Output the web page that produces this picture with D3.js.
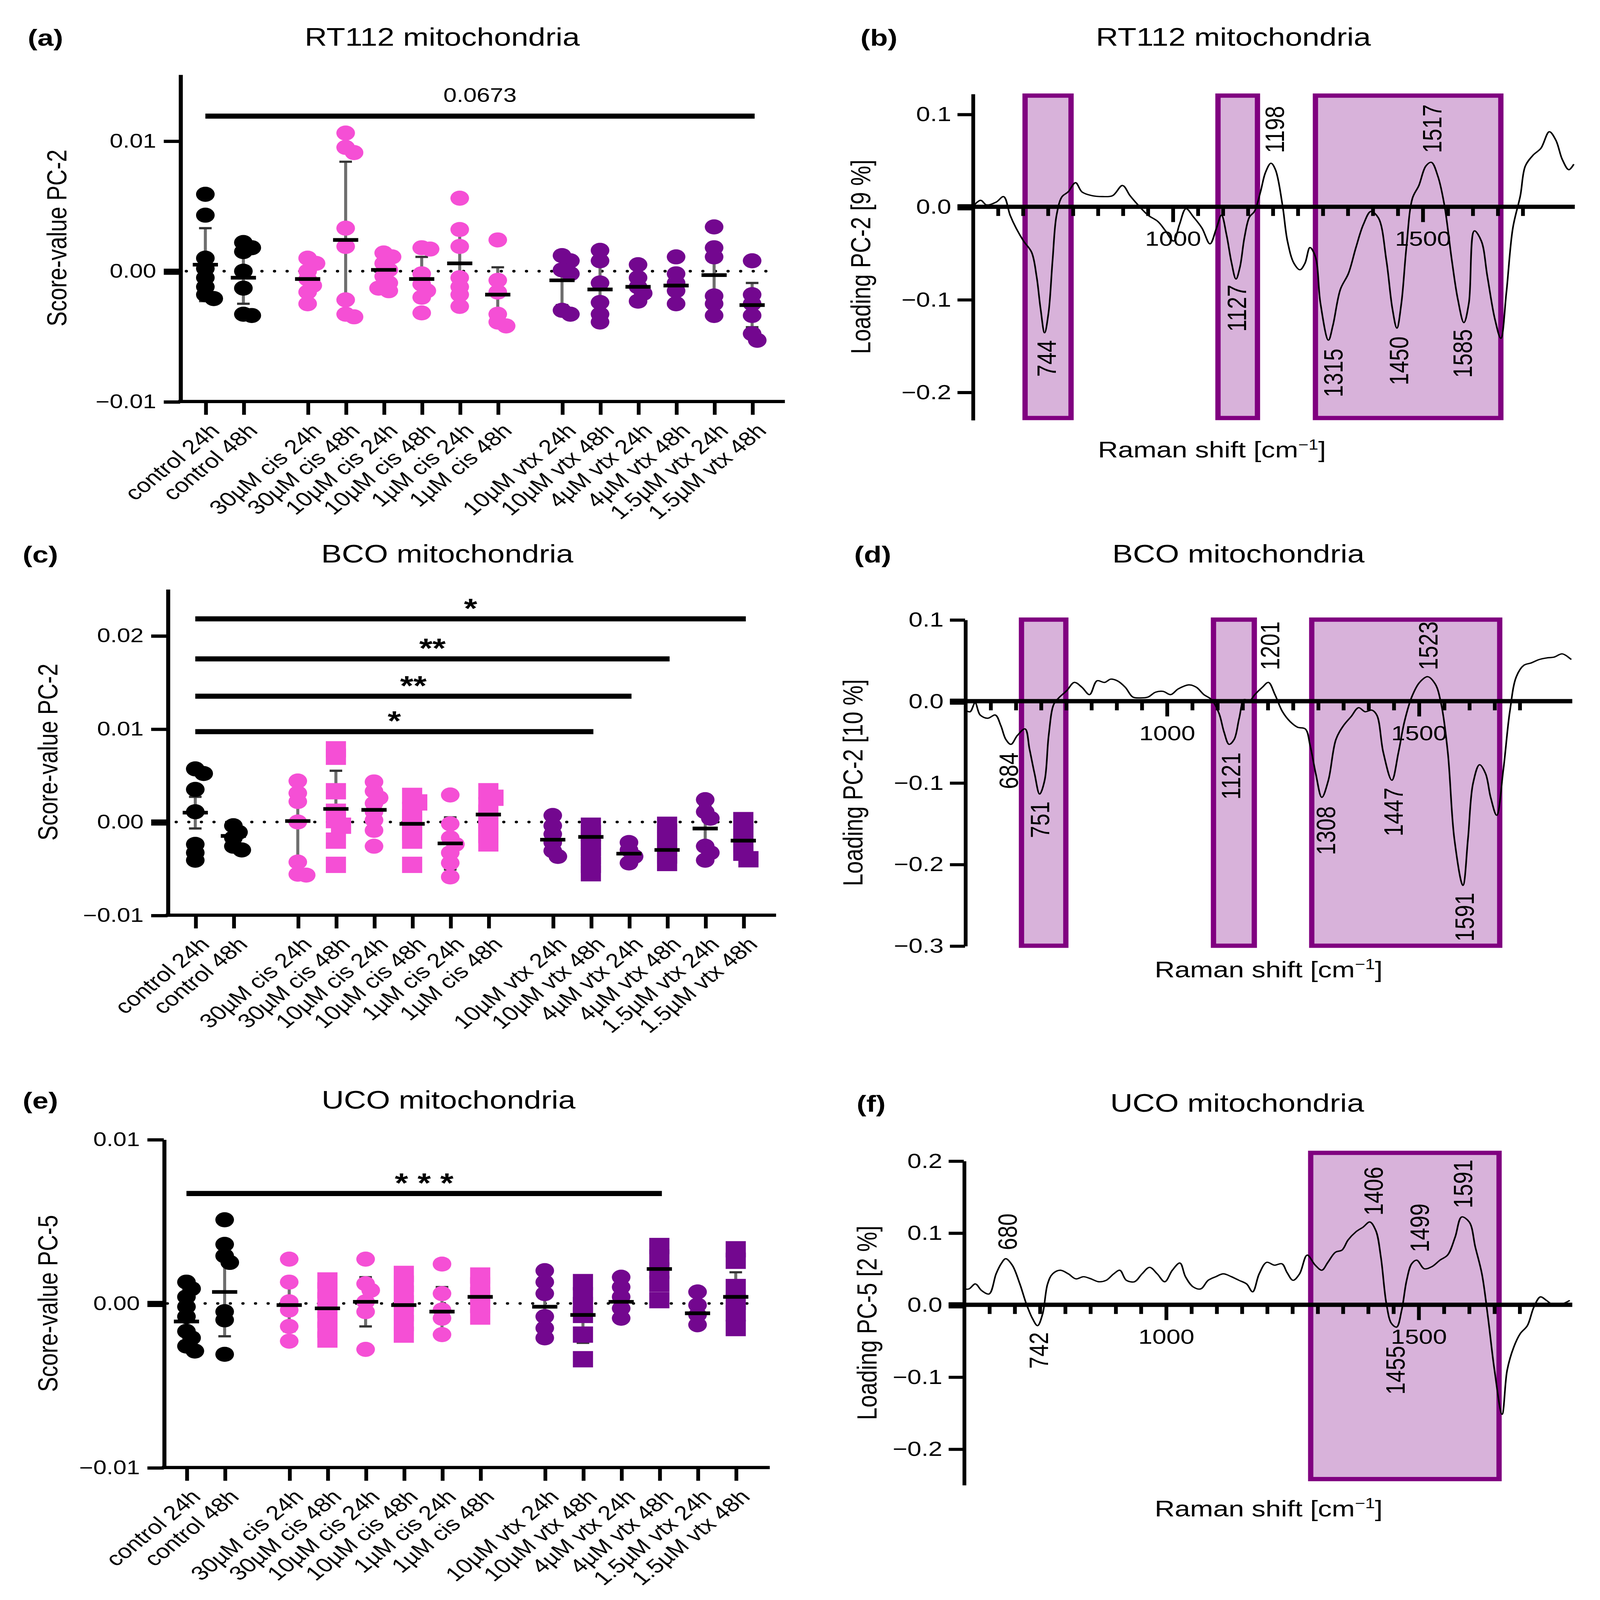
<!DOCTYPE html>
<html>
<head>
<meta charset="utf-8">
<script src="https://cdn.jsdelivr.net/npm/d3@7"></script>
<style>
  html, body { margin: 0; padding: 0; background: #fff; overflow: hidden; }
  svg { display: block; width: 100vw; height: 100vh; font-family: "Liberation Sans", Arial, sans-serif; }
</style>
</head>
<body>
<script>
// ---- shared categories ----
const categories = [
  "control 24h", "control 48h",
  "30µM cis 24h", "30µM cis 48h", "10µM cis 24h", "10µM cis 48h", "1µM cis 24h", "1µM cis 48h",
  "10µM vtx 24h", "10µM vtx 48h", "4µM vtx 24h", "4µM vtx 48h", "1.5µM vtx 24h", "1.5µM vtx 48h"
];
const catGroup = [0, 0, 1, 1, 1, 1, 1, 1, 2, 2, 2, 2, 2, 2];
const groupColor = ["#000000", "#f54fd5", "#73078f"];

// ---- (a) RT112 scores PC-2 ----
const rt112Scores = [
  [0.0059, 0.0043, 0.0010, 0.0002, -0.0005, -0.0012, -0.0018, -0.0021],
  [0.0022, 0.0018, 0.0015, 0.0000, -0.0013, -0.0033, -0.0034],
  [0.0010, 0.0006, 0.0000, -0.0006, -0.0011, -0.0016, -0.0025],
  [0.0106, 0.0095, 0.0091, 0.0033, 0.0019, -0.0022, -0.0033, -0.0035],
  [0.0014, 0.0011, 0.0006, 0.0001, -0.0004, -0.0009, -0.0013, -0.0015],
  [0.0018, 0.0017, -0.0002, -0.0010, -0.0015, -0.0020, -0.0032],
  [0.0056, 0.0032, 0.0019, -0.0005, -0.0012, -0.0018, -0.0027],
  [0.0024, -0.0007, -0.0016, -0.0033, -0.0039, -0.0042],
  [0.0012, 0.0008, 0.0001, -0.0002, -0.0030, -0.0033],
  [0.0016, 0.0008, -0.0009, -0.0024, -0.0033, -0.0039],
  [0.0005, -0.0005, -0.0012, -0.0017, -0.0023],
  [0.0011, -0.0002, -0.0009, -0.0015, -0.0025],
  [0.0034, 0.0018, 0.0011, -0.0019, -0.0025, -0.0034],
  [0.0008, -0.0018, -0.0025, -0.0034, -0.0048, -0.0053]
];
const rt112Mean = [0.0005, -0.0005, -0.0006, 0.0024, 0.0001, -0.0006, 0.0006, -0.0018, -0.0007, -0.0014, -0.0012, -0.0011, -0.0003, -0.0026];
const rt112Sd = [0.0028, 0.0020, 0.0013, 0.0060, 0.0010, 0.0017, 0.0027, 0.0021, 0.0019, 0.0019, 0.0010, 0.0012, 0.0021, 0.0017];
const rt112Shape = ["circle", "circle", "circle", "circle", "circle", "circle", "circle", "circle", "circle", "circle", "circle", "circle", "circle", "circle"];
const rt112Sig = [{ from: 0, to: 13, value: 0.0119, text: "0.0673" }];

// ---- (c) BCO scores PC-2 ----
const bcoScores = [
  [0.0057, 0.0052, 0.0035, 0.0011, -0.0024, -0.0033, -0.0041],
  [-0.0004, -0.0011, -0.0017, -0.0026, -0.0030],
  [0.0044, 0.0031, 0.0022, 0.0000, -0.0043, -0.0056, -0.0057],
  [0.0078, 0.0070, 0.0033, 0.0011, 0.0002, -0.0004, -0.0020, -0.0046],
  [0.0043, 0.0033, 0.0026, 0.0020, 0.0011, 0.0002, -0.0009, -0.0026],
  [0.0028, 0.0021, 0.0013, 0.0005, -0.0003, -0.0011, -0.0020, -0.0046],
  [0.0029, -0.0002, -0.0017, -0.0024, -0.0033, -0.0044, -0.0059],
  [0.0033, 0.0026, 0.0018, 0.0010, 0.0002, -0.0006, -0.0014, -0.0023],
  [0.0007, -0.0004, -0.0013, -0.0022, -0.0031, -0.0037],
  [-0.0004, -0.0012, -0.0020, -0.0028, -0.0037, -0.0046, -0.0055],
  [-0.0022, -0.0030, -0.0037, -0.0044],
  [-0.0003, -0.0011, -0.0020, -0.0028, -0.0036, -0.0044],
  [0.0024, 0.0011, 0.0004, -0.0026, -0.0033, -0.0041],
  [0.0002, -0.0007, -0.0015, -0.0024, -0.0033, -0.0040]
];
const bcoMean = [0.0010, -0.0015, 0.0001, 0.0014, 0.0013, -0.0002, -0.0023, 0.0008, -0.0019, -0.0016, -0.0034, -0.0030, -0.0007, -0.0020];
const bcoSd = [0.0017, 0.0008, 0.0045, 0.0041, 0.0020, 0.0025, 0.0028, 0.0017, 0.0014, 0.0015, 0.0008, 0.0013, 0.0024, 0.0011];
const bcoShape = ["circle", "circle", "circle", "square", "circle", "square", "circle", "square", "circle", "square", "circle", "square", "circle", "square"];
const bcoSig = [
  { from: 0, to: 13, value: 0.0218, text: "*" },
  { from: 0, to: 11, value: 0.0175, text: "**" },
  { from: 0, to: 10, value: 0.0135, text: "**" },
  { from: 0, to: 9, value: 0.0097, text: "*" }
];

// ---- (e) UCO scores PC-5 ----
const ucoScores = [
  [0.0013, 0.0009, 0.0004, -0.0002, -0.0008, -0.0017, -0.0021, -0.0026, -0.0029],
  [0.0051, 0.0036, 0.0029, 0.0025, -0.0005, -0.0010, -0.0031],
  [0.0027, 0.0013, 0.0001, -0.0004, -0.0014, -0.0023],
  [0.0014, 0.0008, 0.0002, -0.0004, -0.0010, -0.0016, -0.0022],
  [0.0027, 0.0012, 0.0008, 0.0001, -0.0005, -0.0028],
  [0.0018, 0.0012, 0.0006, 0.0000, -0.0006, -0.0012, -0.0019],
  [0.0024, 0.0006, -0.0004, -0.0009, -0.0019],
  [0.0017, 0.0011, 0.0005, -0.0001, -0.0008],
  [0.0020, 0.0013, 0.0006, -0.0008, -0.0015, -0.0021],
  [0.0013, 0.0005, -0.0001, -0.0007, -0.0019, -0.0034],
  [0.0016, 0.0010, 0.0004, -0.0003, -0.0009],
  [0.0035, 0.0028, 0.0020, 0.0012, 0.0002],
  [0.0007, -0.0001, -0.0007, -0.0013],
  [0.0033, 0.0026, 0.0010, 0.0001, -0.0006, -0.0015]
];
const ucoMean = [-0.0011, 0.0007, -0.0001, -0.0003, 0.0001, -0.0001, -0.0005, 0.0004, -0.0002, -0.0007, 0.0001, 0.0021, -0.0006, 0.0004];
const ucoSd = [0.0012, 0.0027, 0.0016, 0.0012, 0.0015, 0.0012, 0.0015, 0.0007, 0.0015, 0.0017, 0.0009, 0.0012, 0.0006, 0.0015];
const ucoShape = bcoShape;
const ucoSig = [{ from: 0, to: 11, value: 0.0067, text: "* * *" }];

// ---- (b) RT112 loading PC-2 [cm-1, loading] ----
const rt112Loading = [
  [600, 0.000], [616, 0.007], [628, 0.002], [647, 0.005], [662, 0.011], [675, -0.009], [687, -0.023],
  [702, -0.037], [718, -0.049], [728, -0.075], [736, -0.110], [744, -0.136], [752, -0.114], [760, -0.058],
  [768, -0.009], [779, 0.011], [791, 0.016], [806, 0.026], [819, 0.016], [839, 0.012], [860, 0.011],
  [880, 0.012], [900, 0.023], [915, 0.012], [931, 0.002], [951, -0.009], [971, -0.016], [986, -0.026],
  [1002, -0.037], [1014, -0.019], [1027, -0.002], [1042, -0.011], [1059, -0.023], [1075, -0.040],
  [1088, -0.023], [1098, -0.009], [1108, -0.030], [1118, -0.060], [1127, -0.078], [1135, -0.065],
  [1144, -0.033], [1154, -0.011], [1164, -0.005], [1176, 0.016], [1186, 0.037], [1197, 0.047],
  [1206, 0.040], [1220, 0.002], [1230, -0.037], [1243, -0.061], [1255, -0.068], [1265, -0.061],
  [1275, -0.044], [1286, -0.054], [1296, -0.104], [1312, -0.144], [1321, -0.128], [1336, -0.089],
  [1352, -0.072], [1367, -0.044], [1382, -0.019], [1397, -0.005], [1412, -0.012], [1428, -0.058],
  [1440, -0.110], [1449, -0.131], [1458, -0.104], [1468, -0.044], [1480, 0.009], [1493, 0.023],
  [1507, 0.044], [1518, 0.048], [1531, 0.033], [1544, 0.002], [1559, -0.058], [1571, -0.100],
  [1583, -0.125], [1593, -0.104], [1604, -0.026], [1618, -0.037], [1630, -0.075], [1645, -0.121],
  [1657, -0.142], [1668, -0.093], [1681, -0.023], [1696, 0.012], [1706, 0.044], [1722, 0.056],
  [1737, 0.063], [1754, 0.081], [1767, 0.072], [1780, 0.051], [1793, 0.040], [1803, 0.046]
];
const rt112Boxes = [[705, 797], [1091, 1170], [1286, 1657]];
const rt112Peaks = [
  { text: "744", x: 748, y: -0.144, dir: -1 },
  { text: "1127", x: 1128, y: -0.084, dir: -1 },
  { text: "1198", x: 1204, y: 0.058, dir: 1 },
  { text: "1517", x: 1519, y: 0.058, dir: 1 },
  { text: "1315", x: 1321, y: -0.153, dir: -1 },
  { text: "1450", x: 1453, y: -0.140, dir: -1 },
  { text: "1585", x: 1580, y: -0.132, dir: -1 }
];

// ---- (d) BCO loading PC-2 ----
const bcoLoading = [
  [600, -0.011], [610, -0.013], [620, -0.002], [630, -0.017], [645, -0.021], [660, -0.017], [671, -0.030],
  [681, -0.047], [691, -0.053], [704, -0.042], [719, -0.034], [728, -0.059], [738, -0.089], [748, -0.114],
  [758, -0.097], [766, -0.042], [776, -0.004], [786, 0.004], [802, 0.013], [817, 0.023], [832, 0.017],
  [847, 0.008], [862, 0.025], [877, 0.023], [889, 0.027], [902, 0.025], [918, 0.017], [933, 0.005],
  [948, 0.004], [963, 0.005], [978, 0.011], [993, 0.012], [1008, 0.008], [1023, 0.015], [1044, 0.020],
  [1059, 0.017], [1074, 0.008], [1089, 0.002], [1104, -0.015], [1114, -0.038], [1124, -0.053],
  [1134, -0.047], [1144, -0.021], [1154, 0.002], [1164, 0.000], [1175, 0.008], [1190, 0.017],
  [1202, 0.023], [1215, 0.008], [1230, -0.013], [1245, -0.025], [1260, -0.032], [1275, -0.034],
  [1285, -0.055], [1296, -0.089], [1308, -0.118], [1321, -0.097], [1336, -0.047], [1351, -0.030],
  [1366, -0.019], [1381, -0.008], [1394, -0.013], [1407, -0.011], [1417, -0.017], [1430, -0.063],
  [1447, -0.097], [1460, -0.063], [1472, -0.025], [1487, 0.006], [1502, 0.023], [1518, 0.030],
  [1533, 0.021], [1545, -0.004], [1558, -0.063], [1571, -0.169], [1588, -0.226], [1598, -0.169],
  [1608, -0.101], [1621, -0.078], [1633, -0.089], [1643, -0.118], [1655, -0.140], [1668, -0.085],
  [1681, -0.013], [1694, 0.030], [1709, 0.044], [1724, 0.047], [1739, 0.051], [1754, 0.053],
  [1769, 0.054], [1785, 0.058], [1803, 0.051]
];
const bcoBoxes = [[712, 800], [1093, 1174], [1288, 1661]];
const bcoPeaks = [
  { text: "684", x: 686, y: -0.063, dir: -1 },
  { text: "751", x: 748, y: -0.123, dir: -1 },
  { text: "1121", x: 1127, y: -0.063, dir: -1 },
  { text: "1201", x: 1205, y: 0.038, dir: 1 },
  { text: "1523", x: 1519, y: 0.038, dir: 1 },
  { text: "1308", x: 1316, y: -0.129, dir: -1 },
  { text: "1447", x: 1450, y: -0.106, dir: -1 },
  { text: "1591", x: 1591, y: -0.235, dir: -1 }
];

// ---- (f) UCO loading PC-5 ----
const ucoLoading = [
  [600, 0.022], [610, 0.022], [623, 0.029], [635, 0.020], [650, 0.015], [664, 0.043], [674, 0.057],
  [683, 0.064], [696, 0.055], [711, 0.029], [724, 0.001], [736, -0.019], [746, -0.029], [756, -0.013],
  [766, 0.029], [776, 0.043], [791, 0.048], [807, 0.043], [822, 0.036], [837, 0.039], [852, 0.036],
  [867, 0.032], [882, 0.034], [897, 0.043], [909, 0.048], [922, 0.034], [938, 0.032], [953, 0.043],
  [968, 0.052], [983, 0.043], [998, 0.032], [1013, 0.048], [1028, 0.058], [1039, 0.039], [1054, 0.025],
  [1069, 0.022], [1084, 0.034], [1099, 0.039], [1114, 0.043], [1130, 0.039], [1145, 0.034],
  [1160, 0.029], [1172, 0.018], [1185, 0.043], [1200, 0.059], [1215, 0.055], [1230, 0.057],
  [1240, 0.045], [1252, 0.034], [1265, 0.043], [1280, 0.069], [1296, 0.055], [1309, 0.048],
  [1321, 0.059], [1336, 0.073], [1349, 0.076], [1361, 0.090], [1376, 0.101], [1391, 0.108],
  [1404, 0.115], [1416, 0.103], [1426, 0.066], [1437, 0.001], [1447, -0.026], [1457, -0.031],
  [1467, -0.008], [1477, 0.034], [1487, 0.057], [1497, 0.062], [1512, 0.050], [1527, 0.053],
  [1543, 0.062], [1558, 0.069], [1573, 0.094], [1586, 0.122], [1601, 0.115], [1613, 0.080],
  [1626, 0.043], [1638, -0.017], [1651, -0.091], [1666, -0.152], [1676, -0.091], [1689, -0.059],
  [1702, -0.040], [1716, -0.029], [1729, -0.003], [1742, 0.011], [1754, 0.006], [1769, -0.001],
  [1785, 0.001], [1800, 0.006]
];
const ucoBoxes = [[1287, 1660]];
const ucoPeaks = [
  { text: "680", x: 686, y: 0.076, dir: 1 },
  { text: "742", x: 748, y: -0.038, dir: -1 },
  { text: "1406", x: 1411, y: 0.124, dir: 1 },
  { text: "1455", x: 1454, y: -0.057, dir: -1 },
  { text: "1499", x: 1502, y: 0.073, dir: 1 },
  { text: "1591", x: 1588, y: 0.134, dir: 1 }
];

// ---------------------------------------------------------------
// the window is capped below the requested size, so the figure is drawn in
// reference units and stretched onto whatever viewport there is
const W = 1270, H = 1570;
const svg = d3.select("body").append("svg")
  .attr("viewBox", `0 0 ${W} ${H}`)
  .attr("preserveAspectRatio", "none");
svg.append("rect").attr("width", W).attr("height", H).attr("fill", "#fff");

const slot = categories.map((c, i) => i + 0.69 * catGroup[i]);

function header(x, y, tag, title, titleX) {
  svg.append("text").attr("x", x).attr("y", y)
    .attr("font-size", 23).attr("font-weight", "bold").text(tag);
  svg.append("text").attr("x", titleX).attr("y", y)
    .attr("font-size", 24.5).attr("text-anchor", "middle").text(title);
}

function styleAxis(ax, width, fs) {
  ax.selectAll("path").attr("stroke", "#000").attr("stroke-width", width);
  ax.selectAll("line").attr("stroke", "#000").attr("stroke-width", width);
  ax.selectAll("text").attr("fill", "#000").attr("font-size", fs)
    .attr("font-family", "Liberation Sans, Arial, sans-serif");
}

// place points in a narrow column, nudging near-duplicates sideways
function spread(vals, y, r) {
  const placed = [];
  return vals.map(v => {
    const py = y(v);
    const cands = [0, r * 0.55, -r * 0.55, r * 0.9, -r * 0.9];
    let dx = 0;
    for (const c of cands) {
      if (placed.every(p => Math.hypot(p.x - c, p.y - py) >= r * 0.9)) { dx = c; break; }
    }
    placed.push({ x: dx, y: py });
    return { v, dx };
  });
}

function scorePanel(cfg) {
  const g = svg.append("g");
  const y = d3.scaleLinear().domain(cfg.domain).range([cfg.bottom, cfg.top]);
  const x = d3.scaleLinear().domain([0, slot[13]]).range([cfg.first, cfg.last]);

  // zero line
  g.append("line")
    .attr("x1", x(-0.5)).attr("x2", x(slot[13] + 0.6))
    .attr("y1", y(0)).attr("y2", y(0))
    .attr("stroke", "#000").attr("stroke-width", 2.6)
    .attr("stroke-linecap", "round")
    .attr("stroke-dasharray", "0,10");

  // y axis
  const ya = g.append("g").attr("transform", `translate(${cfg.left},0)`)
    .call(d3.axisLeft(y).tickValues([-0.01, 0, 0.01, 0.02].filter(t => t <= cfg.domain[1]))
      .tickFormat(d3.format(".2f")).tickSize(13).tickSizeOuter(0).tickPadding(6));
  styleAxis(ya, 3.2, 19);
  ya.selectAll(".tick").filter(d => d === 0).select("line").attr("stroke-width", 6);

  // x axis
  g.append("line").attr("x1", cfg.left - 1.5).attr("x2", cfg.right)
    .attr("y1", cfg.bottom).attr("y2", cfg.bottom)
    .attr("stroke", "#000").attr("stroke-width", 3.2);
  const xa = g.append("g").attr("transform", `translate(0,${cfg.bottom})`)
    .call(d3.axisBottom(x).tickValues(slot).tickSize(13)
      .tickFormat((d, i) => categories[i]));
  xa.select(".domain").remove();
  styleAxis(xa, 3, 19.5);
  xa.selectAll("text")
    .attr("y", 0).attr("dy", "0.35em")
    .attr("text-anchor", "end")
    .attr("transform", "translate(7,25) rotate(-45)");

  // error whiskers
  const r = 7.4;
  categories.forEach((c, i) => {
    const cx = x(slot[i]);
    const lo = cfg.mean[i] - cfg.sd[i], hi = cfg.mean[i] + cfg.sd[i];
    g.append("line").attr("x1", cx).attr("x2", cx)
      .attr("y1", y(lo)).attr("y2", y(hi))
      .attr("stroke", "#6e6e6e").attr("stroke-width", 2.4);
    [lo, hi].forEach(v => g.append("line")
      .attr("x1", cx - 5).attr("x2", cx + 5).attr("y1", y(v)).attr("y2", y(v))
      .attr("stroke", "#333").attr("stroke-width", 2.2));
  });

  // points
  categories.forEach((c, i) => {
    const cx = x(slot[i]);
    const col = groupColor[catGroup[i]];
    const pts = spread(cfg.scores[i], y, r);
    pts.forEach(p => {
      if (cfg.shape[i] === "square") {
        g.append("rect")
          .attr("x", cx + p.dx - 8).attr("y", y(p.v) - 8)
          .attr("width", 16).attr("height", 16).attr("fill", col);
      } else {
        g.append("circle").attr("cx", cx + p.dx).attr("cy", y(p.v))
          .attr("r", r).attr("fill", col);
      }
    });
  });

  // mean bars
  categories.forEach((c, i) => {
    const cx = x(slot[i]);
    g.append("line").attr("x1", cx - 10).attr("x2", cx + 10)
      .attr("y1", y(cfg.mean[i])).attr("y2", y(cfg.mean[i]))
      .attr("stroke", "#000").attr("stroke-width", 3.6);
  });

  // significance bars
  cfg.sig.forEach(s => {
    const x1 = x(slot[s.from]), x2 = x(slot[s.to]) + 2;
    g.append("line").attr("x1", x1).attr("x2", x2)
      .attr("y1", y(s.value)).attr("y2", y(s.value))
      .attr("stroke", "#000").attr("stroke-width", 5);
    const star = s.text.includes("*");
    g.append("text")
      .attr("x", (x1 + x2) / 2).attr("y", y(s.value) - (star ? 1 : 14))
      .attr("text-anchor", "middle")
      .attr("font-size", star ? 27 : 19)
      .attr("font-weight", star ? "bold" : "normal")
      .text(s.text);
  });

  // y title
  g.append("text")
    .attr("transform", `translate(${cfg.yTitleX},${(cfg.top + cfg.bottom) / 2}) rotate(-90)`)
    .attr("text-anchor", "middle").attr("dy", "0.35em")
    .attr("font-size", 22).text(cfg.yTitle);
}

function loadingPanel(cfg) {
  const g = svg.append("g");
  const x = d3.scaleLinear().domain([600, 1805]).range([cfg.left, cfg.right]);
  const y = d3.scaleLinear().domain(cfg.domain).range([cfg.bottom, cfg.top]);

  // highlighted regions
  cfg.boxes.forEach(b => {
    g.append("rect")
      .attr("x", x(b[0])).attr("y", y(cfg.boxY[1]))
      .attr("width", x(b[1]) - x(b[0]))
      .attr("height", y(cfg.boxY[0]) - y(cfg.boxY[1]))
      .attr("fill", "#d8b2da").attr("stroke", "#800080").attr("stroke-width", 4.2);
  });

  // y axis
  const ya = g.append("g").attr("transform", `translate(${cfg.left},0)`)
    .call(d3.axisLeft(y).tickValues(cfg.yTicks).tickFormat(d3.format(".1f"))
      .tickSize(12).tickSizeOuter(0).tickPadding(5));
  styleAxis(ya, 3, 20);
  ya.selectAll(".tick").filter(d => d === 0).select("line").attr("stroke-width", 6);

  // x axis at zero
  const minor = d3.range(650, 1701, 50).filter(v => v !== 1000 && v !== 1500);
  const xm = g.append("g").attr("transform", `translate(0,${y(0)})`)
    .call(d3.axisBottom(x).tickValues(minor).tickSize(9).tickFormat(""));
  xm.select(".domain").remove();
  styleAxis(xm, 3, 16);
  const xM = g.append("g").attr("transform", `translate(0,${y(0)})`)
    .call(d3.axisBottom(x).tickValues([1000, 1500]).tickSize(15).tickPadding(9)
      .tickFormat(d3.format("d")));
  xM.select(".domain").remove();
  styleAxis(xM, 3, 20);
  g.append("line").attr("x1", cfg.left - 12).attr("x2", cfg.right)
    .attr("y1", y(0)).attr("y2", y(0))
    .attr("stroke", "#000").attr("stroke-width", 4.2);

  // loading curve
  g.append("path").datum(cfg.data)
    .attr("fill", "none").attr("stroke", "#000").attr("stroke-width", 1.3)
    .attr("d", d3.line().x(d => x(d[0])).y(d => y(d[1])).curve(d3.curveCatmullRom.alpha(0.5)));

  // peak labels
  cfg.peaks.forEach(p => {
    g.append("text")
      .attr("transform", `translate(${x(p.x)},${y(p.y)}) rotate(-90)`)
      .attr("text-anchor", p.dir < 0 ? "end" : "start")
      .attr("dy", "0.35em").attr("font-size", 21.5).text(p.text);
  });

  // titles
  g.append("text")
    .attr("transform", `translate(${cfg.yTitleX},${(cfg.top + cfg.bottom) / 2}) rotate(-90)`)
    .attr("text-anchor", "middle").attr("dy", "0.35em")
    .attr("font-size", 22).text(cfg.yTitle);
  const xt = g.append("text").attr("x", cfg.xTitleX).attr("y", cfg.xTitleY)
    .attr("text-anchor", "middle").attr("font-size", 22);
  xt.append("tspan").text("Raman shift [cm");
  xt.append("tspan").attr("dy", -8).attr("font-size", 14).text("−1");
  xt.append("tspan").attr("dy", 8).text("]");
}

// ---- layout ----
header(22, 45, "(a)", "RT112 mitochondria", 351);
header(683, 45, "(b)", "RT112 mitochondria", 979);
header(18, 552, "(c)", "BCO mitochondria", 355);
header(678, 552, "(d)", "BCO mitochondria", 983);
header(18, 1088, "(e)", "UCO mitochondria", 356);
header(680, 1091, "(f)", "UCO mitochondria", 982);

scorePanel({
  scores: rt112Scores, mean: rt112Mean, sd: rt112Sd, shape: rt112Shape, sig: rt112Sig,
  domain: [-0.01, 0.0151], top: 73, bottom: 394, left: 143, first: 163, last: 597, right: 623,
  yTitle: "Score-value PC-2", yTitleX: 45
});
scorePanel({
  scores: bcoScores, mean: bcoMean, sd: bcoSd, shape: bcoShape, sig: bcoSig,
  domain: [-0.01, 0.025], top: 578, bottom: 898, left: 133, first: 155, last: 590, right: 616,
  yTitle: "Score-value PC-2", yTitleX: 38
});
scorePanel({
  scores: ucoScores, mean: ucoMean, sd: ucoSd, shape: ucoShape, sig: ucoSig,
  domain: [-0.01, 0.01], top: 1118, bottom: 1440, left: 130, first: 148, last: 584, right: 611,
  yTitle: "Score-value PC-5", yTitleX: 38
});

loadingPanel({
  data: rt112Loading, boxes: rt112Boxes, peaks: rt112Peaks,
  domain: [-0.23, 0.122], boxY: [-0.228, 0.12], yTicks: [-0.2, -0.1, 0, 0.1],
  top: 92, bottom: 412, left: 772, right: 1250,
  yTitle: "Loading PC-2 [9 %]", yTitleX: 683, xTitleX: 962, xTitleY: 449
});
loadingPanel({
  data: bcoLoading, boxes: bcoBoxes, peaks: bcoPeaks,
  domain: [-0.3, 0.1], boxY: [-0.3, 0.1], yTicks: [-0.3, -0.2, -0.1, 0, 0.1],
  top: 608, bottom: 928, left: 766, right: 1248,
  yTitle: "Loading PC-2 [10 %]", yTitleX: 677, xTitleX: 1007, xTitleY: 959
});
loadingPanel({
  data: ucoLoading, boxes: ucoBoxes, peaks: ucoPeaks,
  domain: [-0.25, 0.2], boxY: [-0.242, 0.211], yTicks: [-0.2, -0.1, 0, 0.1, 0.2],
  top: 1139, bottom: 1457, left: 765, right: 1248,
  yTitle: "Loading PC-5 [2 %]", yTitleX: 688, xTitleX: 1007, xTitleY: 1488
});
</script>
</body>
</html>
